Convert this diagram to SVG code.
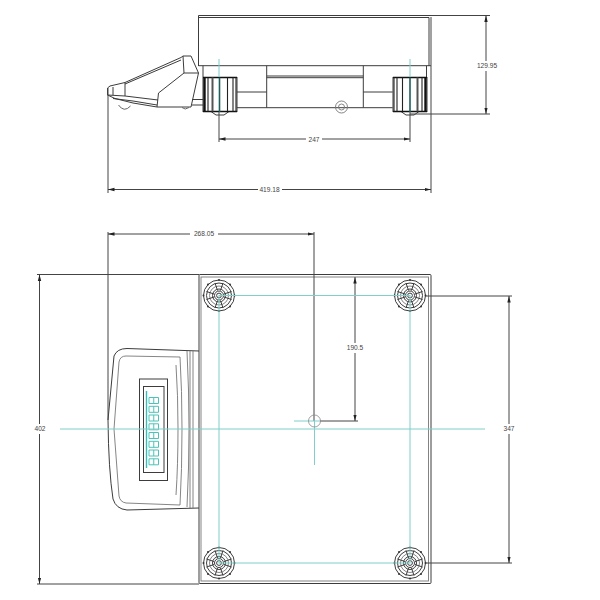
<svg xmlns="http://www.w3.org/2000/svg" width="600" height="600" viewBox="0 0 600 600">
<defs>
<style>
.l{fill:none;stroke:#3c3c3c;stroke-width:1}
.g{fill:none;stroke:#777;stroke-width:.9}
.d{fill:none;stroke:#444;stroke-width:1}
.c{fill:none;stroke:#7fcfca;stroke-width:1}
.t{font:6.6px "Liberation Sans",Arial,sans-serif;fill:#444;text-anchor:middle}
.a{fill:#222}
</style>
<marker id="ah" markerWidth="7" markerHeight="5" refX="6.5" refY="2.5" orient="auto-start-reverse" markerUnits="userSpaceOnUse"><path d="M0 0.8L6.500 2.500L0 4.200Z" class="a"/></marker>
<g id="wheel">
<path d="M8 34L13 37.500H21L26 34Z" fill="#fff" class="l"/>
<rect x="0" y="0" width="34" height="34" fill="#fff" class="l"/>
<path d="M0 0H34M0 34H34" stroke="#111" stroke-width="1.5" fill="none"/>
<path d="M1.500 0V34" stroke="#111" stroke-width="2.400" fill="none"/>
<path d="M5 0V34" stroke="#222" stroke-width="1.100" fill="none"/>
<path d="M9.500 0V34" stroke="#555" stroke-width="2" fill="none"/>
<path d="M24.500 0V34M30 0V34M33 0V34" stroke="#222" stroke-width="1.100" fill="none"/>
</g>
<g id="foot">
<circle r="15.500" class="l"/>
<circle r="12.500" class="l"/>
<circle r="9.500" class="g"/>
<circle r="6.500" class="l"/>
<circle r="4.500" class="l" stroke-width="1.500"/>
<circle r="2.400" class="l" stroke-width="1.200"/>
<path d="M-12.500-4L-5-1.500M12.500-4L5-1.500M-12.500 4L-5 1.500M12.500 4L5 1.500M-4-12.500L-1.500-5M4-12.500L1.500-5M-4 12.500L-1.500 5M4 12.500L1.500 5" class="l"/>
<g fill="#333"><circle cx="-15.500" r="1"/><circle cx="15.500" r="1"/><circle cy="-15.500" r="1"/><circle cy="15.500" r="1"/><circle cx="-11" cy="-11" r="1"/><circle cx="11" cy="-11" r="1"/><circle cx="-11" cy="11" r="1"/><circle cx="11" cy="11" r="1"/></g>
</g>
<path id="digit" d="M0 0H9.500V6H0ZM4.750 0V6" fill="none" stroke="#4cc3b8" stroke-width="1"/>
</defs>
<rect width="600" height="600" fill="#fff"/>

<g id="side-view">
<g id="side-platform">
<path class="l" d="M198.500 66V15.500H431M199 17.500H429V66M198.500 65.700H431"/>
<path class="l" d="M203 65.700V77M266.700 65.700V107.700M363.300 65.700V107.700M426.500 65.700V77M266.700 76H363.300M266.700 77.700H363.300M237 92H266.700M363.300 92H392.700M237 107.700H392.700"/>
<circle cx="341.500" cy="107" r="6" class="g"/>
<circle cx="341.500" cy="107" r="3" class="g"/>
</g>
<g id="side-handle" class="l">
<path d="M107.500 88L110 86L125 82.500L181 57.500L183 56H191L198.500 73L191 107H157L133 103L115 98.500L107.500 95Z"/>
<path d="M125 84L181 60M183 56L184 73H198.500M184 73L158.500 93L157 107M107.500 95L125 96L158 100M113 87V95M125 82.500V96M113 98.500L133 101L157 105M192 99.500H203M192 105H203"/>
<path d="M118.500 105Q124 113 130.500 106" stroke="#666"/>
<path d="M182 107.500Q185 110.500 189 107.500" stroke="#666"/>
</g>
<use href="#wheel" x="203" y="77.500"/>
<use href="#wheel" transform="translate(427 77.500) scale(-1 1)"/>
</g>

<g id="plan-view">
<g id="plan-platform">
<rect x="199" y="274.500" width="232" height="309" rx="1" class="l"/>
<rect x="201" y="277" width="227.500" height="304" class="g"/>
</g>
<g id="plan-handle">
<path class="l" d="M199 351L127 348.500Q117 348.500 114 356L108 420Q108.500 470 113 499Q116 509 127 510L199 508"/>
<path class="g" d="M126 356Q120 356 119 362L114 429L119 496Q120 502 126 503L180 505Q182 470 182 429Q182 390 180 357Z"/>
<path class="g" d="M187 351Q191 429 187 507M190 351V508M193 350.500V508M178 428Q178 395 176 365M178 428Q178 465 176 495"/>
<rect x="139.500" y="379" width="28" height="101.500" class="l"/>
<rect x="143.500" y="386.500" width="20.500" height="86" class="l"/>
<path d="M146.500 391V468" stroke="#37bdb2" stroke-width="1.400" fill="none"/>
<g id="digits">
<use href="#digit" x="149" y="397.500"/><use href="#digit" x="149" y="406.300"/><use href="#digit" x="149" y="415"/><use href="#digit" x="149" y="423.800"/><use href="#digit" x="149" y="432.500"/><use href="#digit" x="149" y="441.300"/><use href="#digit" x="149" y="450"/><use href="#digit" x="149" y="458.800"/>
</g>
</g>
<g id="feet">
<use href="#foot" x="219" y="295.500"/>
<use href="#foot" x="410" y="295.500"/>
<use href="#foot" x="219" y="563"/>
<use href="#foot" x="410" y="563"/>
</g>
</g>

<g id="dimensions" class="d">
<path d="M431 15.500H490M410 114H490M219 112V142M410 112V142M108 88V193M431 17V193"/>
<path d="M219 139H306" marker-start="url(#ah)"/>
<path d="M322 139H410" marker-end="url(#ah)"/>
<path d="M108 189.500H258" marker-start="url(#ah)"/>
<path d="M282 189.500H431" marker-end="url(#ah)"/>
<path d="M486 15.500V61" marker-start="url(#ah)"/>
<path d="M486 71V114" marker-end="url(#ah)"/>
<path d="M108 232V420M314 232V421"/>
<path d="M108 234H190" marker-start="url(#ah)"/>
<path d="M218 234H314" marker-end="url(#ah)"/>
<path d="M37 274.500H199M37 584H199"/>
<path d="M39.500 274.500V424" marker-start="url(#ah)"/>
<path d="M39.500 434V584" marker-end="url(#ah)"/>
<path d="M355 277V343" marker-start="url(#ah)"/>
<path d="M355 353V421" marker-end="url(#ah)"/>
<path d="M320 421H358M426 296H512M426 563H512"/>
<path d="M509 296V424" marker-start="url(#ah)"/>
<path d="M509 434V563" marker-end="url(#ah)"/>
</g>

<g id="centerlines" class="c">
<path d="M219 59V77"/><path d="M410 59V77"/>
<path d="M219.500 77.500V112M410 77.500V112" stroke="#1f5f5c" stroke-width="1.600"/>
<rect x="219" y="295.500" width="191" height="267.500"/>
<path d="M60 429H485M294 421H320M314.500 421V465"/>
<circle cx="314.500" cy="421" r="6" stroke="#888" stroke-width=".8"/>
</g>

<g id="labels" class="t">
<text x="487" y="68">129.95</text>
<text x="314" y="141.500">247</text>
<text x="269.500" y="192">419.18</text>
<text x="204" y="236.300">268.05</text>
<text x="355" y="350.300">190.5</text>
<text x="40" y="431.300">402</text>
<text x="509" y="431.300">347</text>
</g>
</svg>
